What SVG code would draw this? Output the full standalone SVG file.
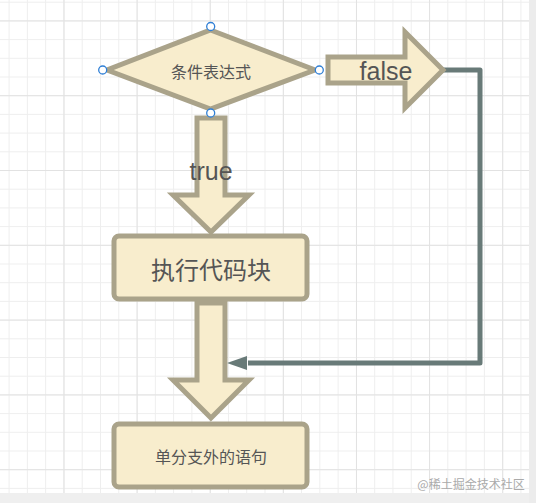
<svg xmlns="http://www.w3.org/2000/svg" width="536" height="503" viewBox="0 0 536 503">
<defs>
<style>
.shape{fill:#f8edcd;stroke:#aaa38a;stroke-width:5;stroke-linejoin:miter}
.box{fill:#f8edcd;stroke:#aaa38a;stroke-width:5}
.t{font-family:"Liberation Sans","Noto Sans CJK SC",sans-serif;fill:#555;text-anchor:middle;dominant-baseline:central}
.cjk{font-family:"Noto Sans CJK SC","Liberation Sans",sans-serif;fill:#555;text-anchor:middle;dominant-baseline:central}
.h{fill:#fff;stroke:#2f7fd6;stroke-width:1.3}
.conn{fill:none;stroke:#687a78;stroke-width:5;stroke-linejoin:round}
</style>
<pattern id="minor" patternUnits="userSpaceOnUse" x="8.6" y="1.7" width="18.28" height="18.7">
<path d="M0.5 0V18.7M0 0.5H18.28" stroke="#eeeeee" stroke-width="1" fill="none"/>
</pattern>
<pattern id="major" patternUnits="userSpaceOnUse" x="63.5" y="20.4" width="73.12" height="74.8">
<path d="M0.5 0V74.8M0 0.5H73.12" stroke="#e2e2e2" stroke-width="1" fill="none"/>
</pattern>
</defs>
<rect width="536" height="503" fill="#fff"/>
<rect width="536" height="503" fill="url(#minor)"/>
<rect width="536" height="503" fill="url(#major)"/>
<rect x="0" y="493" width="536" height="10" fill="#efefef"/>
<rect x="529" y="0" width="7" height="503" fill="#ececec"/>
<g id="connectors">
<path class="conn" d="M443 70H480V363H248"/>
<path d="M227 363L247 356V370Z" fill="#687a78"/>
<g id="false-arrow">
<path class="shape" d="M328 57H405V32L443 70L405 108V83H328Z"/>
<text class="t" x="386" y="71" font-size="25">false</text>
</g>
<g id="true-arrow">
<path class="shape" d="M197 118H225V195H249L211 232L173 195H197Z"/>
<text class="t" x="211" y="171" font-size="25">true</text>
</g>
<g id="down-arrow">
<path class="shape" d="M197 303H225V380H249L211 418L173 380H197Z"/>
</g>
</g>
<g id="condition">
<path class="shape" d="M210.5 30L315 70L210.5 109L107 70Z"/>
<text class="cjk" x="211" y="71" font-size="16">条件表达式</text>
<circle class="h" cx="210.7" cy="26.5" r="4"/>
<circle class="h" cx="102.7" cy="70" r="4"/>
<circle class="h" cx="319.3" cy="70" r="4"/>
<circle class="h" cx="210.7" cy="113" r="4"/>
</g>
<g id="execute">
<rect class="box" x="114" y="236" width="193" height="63" rx="5"/>
<text class="cjk" x="211" y="268" font-size="24">执行代码块</text>
</g>
<g id="after">
<rect class="box" x="114" y="424" width="193" height="63" rx="5"/>
<text class="cjk" x="211" y="456" font-size="16">单分支外的语句</text>
</g>
<text class="cjk" x="471" y="483" font-size="12" style="fill:#aaa">@稀土掘金技术社区</text>
</svg>
